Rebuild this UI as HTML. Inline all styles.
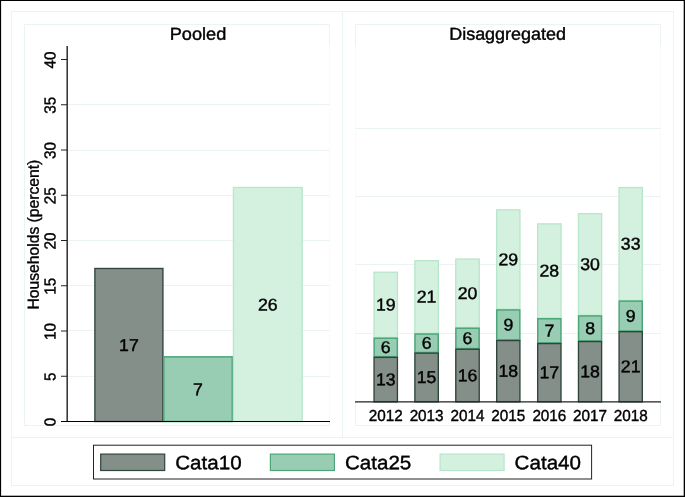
<!DOCTYPE html><html><head><meta charset="utf-8"><style>html,body{margin:0;padding:0;background:#fff}svg{display:block;will-change:transform;opacity:0.999}text{font-family:"Liberation Sans",sans-serif;fill:#000;stroke:#000;stroke-width:0.4px}</style></head><body>
<svg width="685" height="497" viewBox="0 0 685 497">
<rect x="0" y="0" width="685" height="497" fill="#fff"/>
<rect x="11.5" y="11.5" width="662" height="474" fill="none" stroke="#ebf3f4" stroke-width="1"/>
<line x1="342.5" y1="11.5" x2="342.5" y2="437.5" stroke="#ebf3f4" stroke-width="1" />
<line x1="11.5" y1="437.5" x2="673.5" y2="437.5" stroke="#ebf3f4" stroke-width="1" />
<rect x="24.5" y="24.5" width="305" height="401" fill="none" stroke="#f8fbfb" stroke-width="1"/>
<path d="M24.5 46 V24.5 H329.5 V46" fill="none" stroke="#ebf3f4" stroke-width="1"/>
<line x1="24.5" y1="425.5" x2="329.5" y2="425.5" stroke="#ebf3f4" stroke-width="1" />
<line x1="24.5" y1="24.5" x2="24.5" y2="425.5" stroke="#ebf3f4" stroke-width="1" />
<line x1="329.5" y1="422" x2="329.5" y2="425.5" stroke="#ebf3f4" stroke-width="1" />
<rect x="355.5" y="24.5" width="305" height="401" fill="none" stroke="#f8fbfb" stroke-width="1"/>
<path d="M355.5 46 V24.5 H660.5 V46" fill="none" stroke="#ebf3f4" stroke-width="1"/>
<line x1="355.5" y1="425.5" x2="660.5" y2="425.5" stroke="#ebf3f4" stroke-width="1" />
<line x1="355.5" y1="402" x2="355.5" y2="425.5" stroke="#ebf3f4" stroke-width="1" />
<line x1="660.5" y1="402" x2="660.5" y2="425.5" stroke="#ebf3f4" stroke-width="1" />
<line x1="68" y1="376.5" x2="330" y2="376.5" stroke="#ebf3f4" stroke-width="1" />
<line x1="68" y1="330.5" x2="330" y2="330.5" stroke="#ebf3f4" stroke-width="1" />
<line x1="68" y1="285.5" x2="330" y2="285.5" stroke="#ebf3f4" stroke-width="1" />
<line x1="68" y1="240.5" x2="330" y2="240.5" stroke="#ebf3f4" stroke-width="1" />
<line x1="68" y1="195.5" x2="330" y2="195.5" stroke="#ebf3f4" stroke-width="1" />
<line x1="68" y1="150.5" x2="330" y2="150.5" stroke="#ebf3f4" stroke-width="1" />
<line x1="68" y1="104.5" x2="330" y2="104.5" stroke="#ebf3f4" stroke-width="1" />
<line x1="355" y1="333.5" x2="661" y2="333.5" stroke="#ebf3f4" stroke-width="1" />
<line x1="355" y1="264.5" x2="661" y2="264.5" stroke="#ebf3f4" stroke-width="1" />
<line x1="355" y1="196.5" x2="661" y2="196.5" stroke="#ebf3f4" stroke-width="1" />
<line x1="355" y1="128.5" x2="661" y2="128.5" stroke="#ebf3f4" stroke-width="1" />
<rect x="94.88" y="268.48" width="68.05" height="153.02" fill="#858f89" stroke="#2f443a" stroke-width="1.35"/>
<rect x="163.75" y="356.85" width="68.50" height="64.65" fill="#99cdb3" stroke="#4ba678" stroke-width="1.5"/>
<rect x="233.45" y="187.45" width="68.80" height="234.05" fill="#d4f0df" stroke="#b7e6ca" stroke-width="1.3"/>
<text transform="translate(128.90,350.99) rotate(0.03) scale(1.04,1)" font-size="17" text-anchor="middle">17</text>
<text transform="translate(198.00,395.14) rotate(0.03) scale(1.04,1)" font-size="17" text-anchor="middle">7</text>
<text transform="translate(267.85,310.49) rotate(0.03) scale(1.04,1)" font-size="17" text-anchor="middle">26</text>
<rect x="374.05" y="272.25" width="23.40" height="65.25" fill="#d4f0df" stroke="#b7e6ca" stroke-width="1.3"/>
<rect x="374.15" y="338.25" width="23.20" height="18.45" fill="#99cdb3" stroke="#4ba678" stroke-width="1.5"/>
<rect x="374.07" y="357.38" width="23.35" height="44.43" fill="#858f89" stroke="#2f443a" stroke-width="1.35"/>
<text transform="translate(385.75,310.49) rotate(0.03) scale(1.04,1)" font-size="17" text-anchor="middle">19</text>
<text transform="translate(385.75,353.04) rotate(0.03) scale(1.04,1)" font-size="17" text-anchor="middle">6</text>
<text transform="translate(385.75,385.19) rotate(0.03) scale(1.04,1)" font-size="17" text-anchor="middle">13</text>
<text transform="translate(385.75,420.90) rotate(0.03) scale(0.955,1)" font-size="16" text-anchor="middle">2012</text>
<rect x="414.85" y="260.65" width="23.50" height="72.65" fill="#d4f0df" stroke="#b7e6ca" stroke-width="1.3"/>
<rect x="414.95" y="334.05" width="23.30" height="18.45" fill="#99cdb3" stroke="#4ba678" stroke-width="1.5"/>
<rect x="414.88" y="353.18" width="23.45" height="48.63" fill="#858f89" stroke="#2f443a" stroke-width="1.35"/>
<text transform="translate(426.60,302.59) rotate(0.03) scale(1.04,1)" font-size="17" text-anchor="middle">21</text>
<text transform="translate(426.60,348.84) rotate(0.03) scale(1.04,1)" font-size="17" text-anchor="middle">6</text>
<text transform="translate(426.60,383.09) rotate(0.03) scale(1.04,1)" font-size="17" text-anchor="middle">15</text>
<text transform="translate(426.60,420.90) rotate(0.03) scale(0.955,1)" font-size="16" text-anchor="middle">2013</text>
<rect x="455.75" y="259.05" width="23.50" height="68.45" fill="#d4f0df" stroke="#b7e6ca" stroke-width="1.3"/>
<rect x="455.85" y="328.25" width="23.30" height="20.35" fill="#99cdb3" stroke="#4ba678" stroke-width="1.5"/>
<rect x="455.78" y="349.28" width="23.45" height="52.52" fill="#858f89" stroke="#2f443a" stroke-width="1.35"/>
<text transform="translate(467.50,298.89) rotate(0.03) scale(1.04,1)" font-size="17" text-anchor="middle">20</text>
<text transform="translate(467.50,343.99) rotate(0.03) scale(1.04,1)" font-size="17" text-anchor="middle">6</text>
<text transform="translate(467.50,381.14) rotate(0.03) scale(1.04,1)" font-size="17" text-anchor="middle">16</text>
<text transform="translate(467.50,420.90) rotate(0.03) scale(0.955,1)" font-size="16" text-anchor="middle">2014</text>
<rect x="496.65" y="209.85" width="23.30" height="99.35" fill="#d4f0df" stroke="#b7e6ca" stroke-width="1.3"/>
<rect x="496.75" y="309.95" width="23.10" height="29.95" fill="#99cdb3" stroke="#4ba678" stroke-width="1.5"/>
<rect x="496.68" y="340.57" width="23.25" height="61.23" fill="#858f89" stroke="#2f443a" stroke-width="1.35"/>
<text transform="translate(508.30,265.14) rotate(0.03) scale(1.04,1)" font-size="17" text-anchor="middle">29</text>
<text transform="translate(508.30,330.49) rotate(0.03) scale(1.04,1)" font-size="17" text-anchor="middle">9</text>
<text transform="translate(508.30,376.79) rotate(0.03) scale(1.04,1)" font-size="17" text-anchor="middle">18</text>
<text transform="translate(508.30,420.90) rotate(0.03) scale(0.955,1)" font-size="16" text-anchor="middle">2015</text>
<rect x="537.65" y="223.85" width="23.40" height="94.15" fill="#d4f0df" stroke="#b7e6ca" stroke-width="1.3"/>
<rect x="537.75" y="318.75" width="23.20" height="24.15" fill="#99cdb3" stroke="#4ba678" stroke-width="1.5"/>
<rect x="537.67" y="343.57" width="23.35" height="58.23" fill="#858f89" stroke="#2f443a" stroke-width="1.35"/>
<text transform="translate(549.35,276.54) rotate(0.03) scale(1.04,1)" font-size="17" text-anchor="middle">28</text>
<text transform="translate(549.35,336.39) rotate(0.03) scale(1.04,1)" font-size="17" text-anchor="middle">7</text>
<text transform="translate(549.35,378.29) rotate(0.03) scale(1.04,1)" font-size="17" text-anchor="middle">17</text>
<text transform="translate(549.35,420.90) rotate(0.03) scale(0.955,1)" font-size="16" text-anchor="middle">2016</text>
<rect x="578.45" y="213.65" width="23.20" height="101.55" fill="#d4f0df" stroke="#b7e6ca" stroke-width="1.3"/>
<rect x="578.55" y="315.95" width="23.00" height="24.95" fill="#99cdb3" stroke="#4ba678" stroke-width="1.5"/>
<rect x="578.47" y="341.57" width="23.15" height="60.23" fill="#858f89" stroke="#2f443a" stroke-width="1.35"/>
<text transform="translate(590.05,270.04) rotate(0.03) scale(1.04,1)" font-size="17" text-anchor="middle">30</text>
<text transform="translate(590.05,333.99) rotate(0.03) scale(1.04,1)" font-size="17" text-anchor="middle">8</text>
<text transform="translate(590.05,377.29) rotate(0.03) scale(1.04,1)" font-size="17" text-anchor="middle">18</text>
<text transform="translate(590.05,420.90) rotate(0.03) scale(0.955,1)" font-size="16" text-anchor="middle">2017</text>
<rect x="619.05" y="187.55" width="23.30" height="112.85" fill="#d4f0df" stroke="#b7e6ca" stroke-width="1.3"/>
<rect x="619.15" y="301.15" width="23.10" height="29.85" fill="#99cdb3" stroke="#4ba678" stroke-width="1.5"/>
<rect x="619.07" y="331.68" width="23.25" height="70.13" fill="#858f89" stroke="#2f443a" stroke-width="1.35"/>
<text transform="translate(630.70,249.59) rotate(0.03) scale(1.04,1)" font-size="17" text-anchor="middle">33</text>
<text transform="translate(630.70,321.64) rotate(0.03) scale(1.04,1)" font-size="17" text-anchor="middle">9</text>
<text transform="translate(630.70,372.34) rotate(0.03) scale(1.04,1)" font-size="17" text-anchor="middle">21</text>
<text transform="translate(630.70,420.90) rotate(0.03) scale(0.955,1)" font-size="16" text-anchor="middle">2018</text>
<line x1="67.2" y1="46" x2="67.2" y2="422" stroke="#3a3a3a" stroke-width="1.6" />
<line x1="61" y1="421.5" x2="330" y2="421.5" stroke="#000" stroke-width="1.2" />
<line x1="61" y1="376.25" x2="67" y2="376.25" stroke="#222" stroke-width="1" />
<line x1="61" y1="331.0" x2="67" y2="331.0" stroke="#222" stroke-width="1" />
<line x1="61" y1="285.75" x2="67" y2="285.75" stroke="#222" stroke-width="1" />
<line x1="61" y1="240.5" x2="67" y2="240.5" stroke="#222" stroke-width="1" />
<line x1="61" y1="195.24999999999997" x2="67" y2="195.24999999999997" stroke="#222" stroke-width="1" />
<line x1="61" y1="150.0" x2="67" y2="150.0" stroke="#222" stroke-width="1" />
<line x1="61" y1="104.75" x2="67" y2="104.75" stroke="#222" stroke-width="1" />
<line x1="61" y1="59.5" x2="67" y2="59.5" stroke="#222" stroke-width="1" />
<text transform="translate(55.6,421.90) rotate(-90.03) scale(0.955,1)" font-size="16" text-anchor="middle">0</text>
<text transform="translate(55.6,376.65) rotate(-90.03) scale(0.955,1)" font-size="16" text-anchor="middle">5</text>
<text transform="translate(55.6,331.40) rotate(-90.03) scale(0.955,1)" font-size="16" text-anchor="middle">10</text>
<text transform="translate(55.6,286.15) rotate(-90.03) scale(0.955,1)" font-size="16" text-anchor="middle">15</text>
<text transform="translate(55.6,240.90) rotate(-90.03) scale(0.955,1)" font-size="16" text-anchor="middle">20</text>
<text transform="translate(55.6,195.65) rotate(-90.03) scale(0.955,1)" font-size="16" text-anchor="middle">25</text>
<text transform="translate(55.6,150.40) rotate(-90.03) scale(0.955,1)" font-size="16" text-anchor="middle">30</text>
<text transform="translate(55.6,105.15) rotate(-90.03) scale(0.955,1)" font-size="16" text-anchor="middle">35</text>
<text transform="translate(55.6,59.90) rotate(-90.03) scale(0.955,1)" font-size="16" text-anchor="middle">40</text>
<text transform="translate(38.7,234.6) rotate(-90.03) scale(0.98,1)" font-size="16" text-anchor="middle">Households (percent)</text>
<line x1="355" y1="401.9" x2="661" y2="401.9" stroke="#222" stroke-width="1.3" />
<text transform="translate(198.00,39.80) rotate(0.03) scale(1.05,1)" font-size="17.3" text-anchor="middle">Pooled</text>
<text transform="translate(507.60,39.80) rotate(0.03) scale(1.04,1)" font-size="17.3" text-anchor="middle">Disaggregated</text>
<rect x="93.5" y="445.2" width="498.1" height="33.8" fill="#fff" stroke="#222" stroke-width="1"/>
<rect x="100.70" y="454.1" width="64" height="16.4" fill="#858f89" stroke="#2f443a" stroke-width="1.2"/>
<text transform="translate(175.20,469.25) rotate(0.03) scale(1.057,1)" font-size="19.5" text-anchor="start">Cata10</text>
<rect x="270.40" y="454.1" width="64" height="16.4" fill="#99cdb3" stroke="#4ba678" stroke-width="1.2"/>
<text transform="translate(344.90,469.25) rotate(0.03) scale(1.057,1)" font-size="19.5" text-anchor="start">Cata25</text>
<rect x="440.10" y="454.1" width="64" height="16.4" fill="#d4f0df" stroke="#b7e6ca" stroke-width="1.2"/>
<text transform="translate(514.60,469.25) rotate(0.03) scale(1.057,1)" font-size="19.5" text-anchor="start">Cata40</text>
<rect x="0" y="0" width="685" height="1" fill="#000"/>
<rect x="0" y="0" width="1.1" height="497" fill="#000"/>
<rect x="0" y="495.7" width="685" height="1.3" fill="#000"/>
<rect x="683.7" y="0" width="1.3" height="497" fill="#000"/>
</svg></body></html>
